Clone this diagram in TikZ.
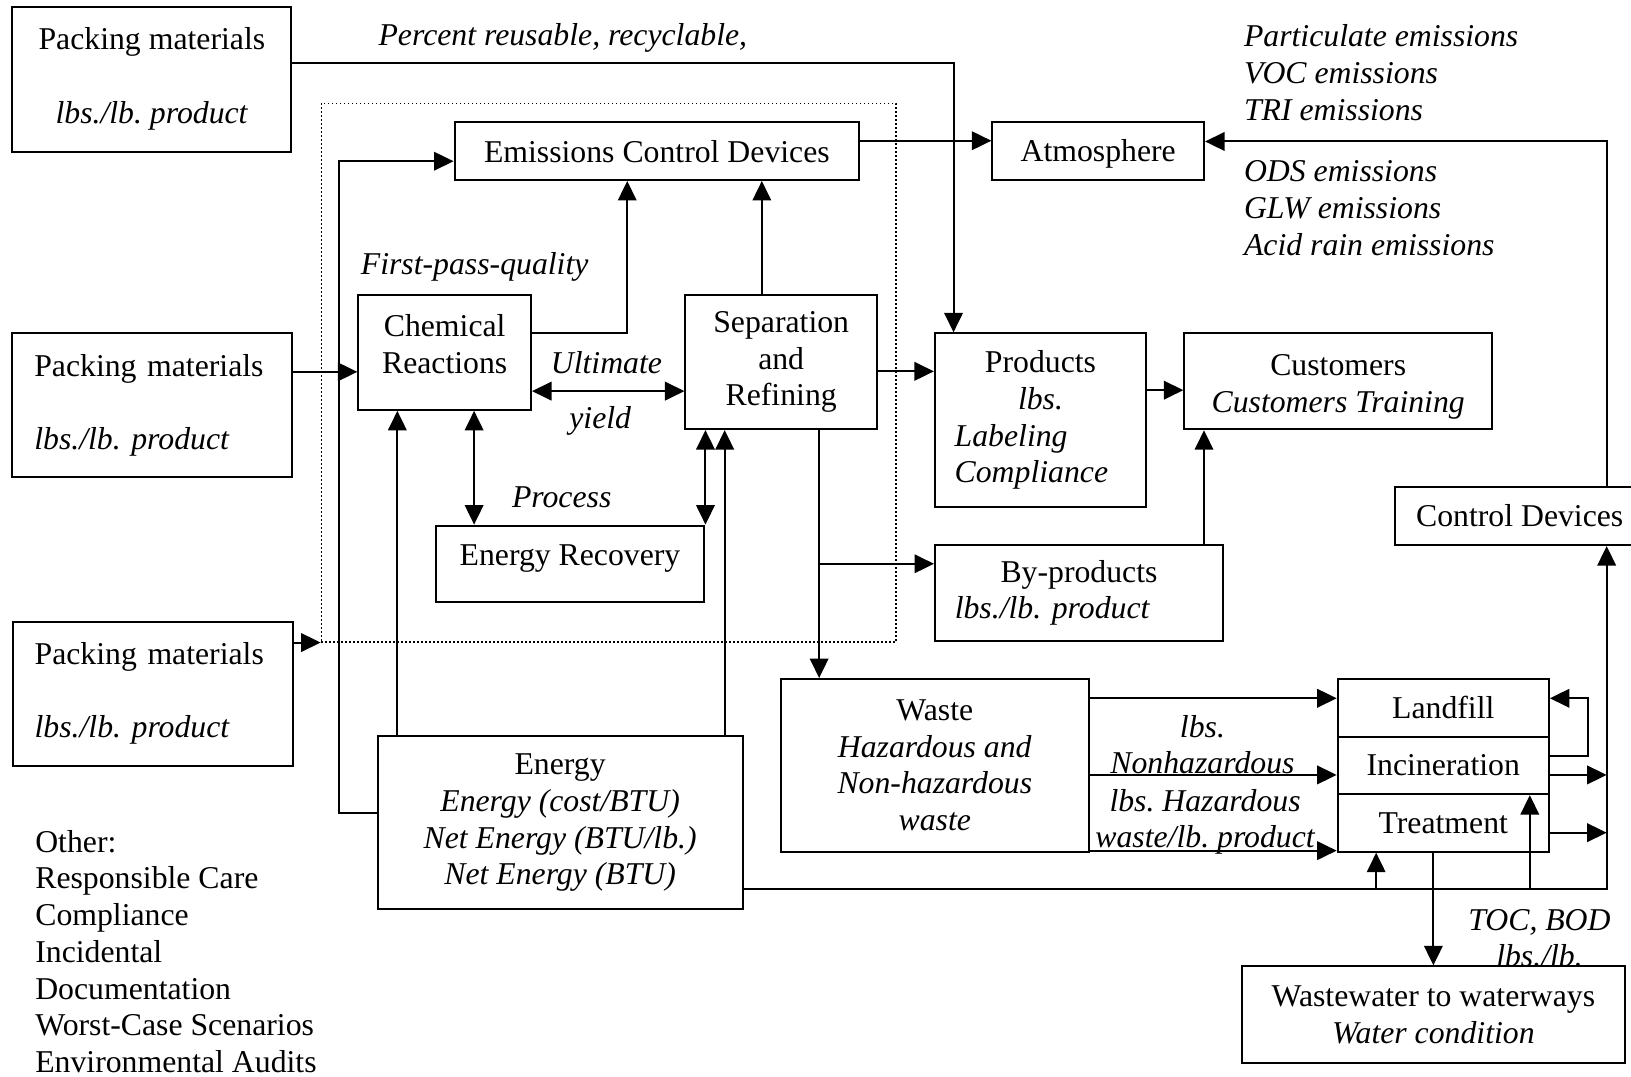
\documentclass[tikz,border=0pt]{standalone}
\usepackage{fontspec}
\setmainfont{Liberation Serif}
\usetikzlibrary{arrows.meta}
\newlength\pxu
\setlength\pxu{0.41607pt}
\frenchspacing

\begin{document}
\begin{tikzpicture}[x=0.41607pt, y=-0.41607pt, line width=0.8pt,
    font=\fontsize{12.7}{14.7}\selectfont,
    box/.style={draw, inner ysep=2pt, align=center},
    lbl/.style={inner sep=0pt, font=\fontsize{12.7}{14.7}\selectfont\itshape, align=left},
    arr/.style={-{Triangle[length=7.8pt,width=7.4pt]}},
    dbl/.style={{Triangle[length=7.8pt,width=7.4pt]}-{Triangle[length=7.8pt,width=7.4pt]}}]
    \useasboundingbox (0,0) rectangle (1568,1035);

    % plant boundary
    \node[draw, densely dotted, line width=0.6pt, minimum width=552.5\pxu, minimum height=517.7\pxu, inner sep=0pt] (plant) at (585.25,358.15) {};

    % inputs
    \node[box, minimum width=268\pxu, minimum height=139.4\pxu] (pack1) at (146,76) {Packing materials\\[15.1pt]\textit{lbs./lb. product}};
    \node[box, align=left, text width=227\pxu, inner xsep=21\pxu, minimum height=139\pxu] (pack2) at (146.5,389.5) {Packing materials\\[14.4pt]\textit{lbs./lb. product}};
    \node[box, align=left, text width=227\pxu, inner xsep=21\pxu, minimum height=138.4\pxu] (pack3) at (146.8,666.8) {Packing materials\\[14.6pt]\textit{lbs./lb. product}};
    \node[box, minimum width=351\pxu, minimum height=166\pxu] (energy) at (538.5,791) {Energy\\\textit{Energy (cost/BTU)}\\\textit{Net Energy (BTU/lb.)}\\\textit{Net Energy (BTU)}};

    % process
    \node[box, minimum width=389\pxu, minimum height=55.4\pxu] (ecd) at (631.5,145.3) {Emissions Control Devices};
    \node[box, minimum width=166\pxu, minimum height=110.4\pxu] (chem) at (427.5,338.8) {Chemical\\Reactions\rule[-16\pxu]{0pt}{0pt}};
    \node[box, minimum width=184\pxu, minimum height=129\pxu] (sep) at (751,348) {Separation\\and\\Refining};
    \node[box, minimum width=258.5\pxu, minimum height=73.6\pxu] (recov) at (548,542.1) {Energy Recovery\rule[-17\pxu]{0pt}{0pt}};

    % outputs
    \node[box, minimum width=203.5\pxu, minimum height=56\pxu, text depth=0pt] (atmo) at (1055.8,145) {Atmosphere};
    \node[box, align=left, text width=165\pxu, inner xsep=19\pxu, minimum height=166.7\pxu] (prod) at (1000.3,403.8) {\makebox[165\pxu]{Products}\\\makebox[165\pxu]{\textit{lbs.}}\\\textit{Labeling}\\\textit{Compliance}};
    \node[box, minimum width=295.8\pxu, minimum height=92.3\pxu] (cust) at (1286.5,366.5) {\rule{0pt}{31\pxu}Customers\\\textit{Customers Training}};
    \node[box, minimum width=240\pxu, minimum height=56\pxu] (ctrl) at (1461,496) {Control Devices};
    \node[box, align=left, text width=238.8\pxu, inner xsep=19\pxu, minimum height=92\pxu] (byp) at (1037.3,570) {\makebox[238.8\pxu]{By-products}\\\textit{lbs./lb. product}};
    \node[box, minimum width=296\pxu, minimum height=166\pxu] (waste) at (898.7,735.8) {Waste\\\textit{Hazardous and}\\\textit{Non-hazardous}\\\textit{waste}};
    \node[box, minimum width=203\pxu, minimum height=55.4\pxu] (landfill) at (1387.5,680.5) {Landfill};
    \node[box, minimum width=203\pxu, minimum height=55.2\pxu] (incin) at (1387.5,735.8) {Incineration};
    \node[box, minimum width=203\pxu, minimum height=55.4\pxu] (treat) at (1387.5,791.1) {Treatment};
    \node[box, minimum width=368\pxu, minimum height=93\pxu] (wwater) at (1378,975.5) {Wastewater to waterways\\\textit{Water condition}};

    % labels
    \node[lbl, anchor=west] (pctlbl) at (363,36) {Percent reusable, recyclable,};
    \node[lbl, anchor=west] (fpqlbl) at (346,257) {First-pass-quality};
    \node[lbl] (ultlbl) at (583,349) {Ultimate};
    \node[lbl] (yldlbl) at (577,405) {yield};
    \node[lbl] (proclbl) at (540,478) {Process};
    \node[lbl, anchor=west] (emis1) at (1195,70) {Particulate emissions\\VOC emissions\\TRI emissions};
    \node[lbl, anchor=west] (emis2) at (1195,200) {ODS emissions\\GLW emissions\\Acid rain emissions};
    \node[lbl, align=center] (nhlbl) at (1156,716) {lbs.\\Nonhazardous};
    \node[lbl, align=center] (hzlbl) at (1158.5,790) {lbs. Hazardous\\waste/lb. product};
    \node[lbl, align=center] (toclbl) at (1480,902) {TOC, BOD\\lbs./lb.};
    \node[inner sep=0pt, align=left, anchor=north west] (other) at (33,797) {Other:\\Responsible Care\\Compliance\\Incidental\\Documentation\\Worst-Case Scenarios\\Environmental Audits};

    \coordinate (rail) at (1544.6,854.8);
    \coordinate (drop) at ([xshift=36.5\pxu]sep.south);
    \coordinate (bypin) at ([yshift=28\pxu]byp.west);

    % flows
    \draw[arr] ([yshift=15\pxu]pack1.east) -| ([xshift=-83.6\pxu]prod.north);
    \draw[arr] ([yshift=32\pxu]pack2.east) -- ([yshift=32\pxu]pack2.east -| chem.west);
    \draw[arr] (pack3.east |- plant.south west) -- (plant.south west);
    \draw[arr] ([yshift=9\pxu]energy.west) -- ++(-36.5,0) |- ([yshift=-9.7\pxu]ecd.west);
    \draw[arr] ([yshift=19\pxu]chem.east) -| ([xshift=-28.5\pxu]ecd.south);
    \draw[arr] ([xshift=-18.6\pxu]sep.north) -- ([xshift=-18.6\pxu]sep.north |- ecd.south);
    \draw[arr] ([yshift=10\pxu]ecd.east) -- ([yshift=10\pxu]ecd.east -| atmo.west);
    \draw[dbl] ([yshift=-37.2\pxu]chem.east) -- ([yshift=-37.2\pxu]chem.east -| sep.west);
    \draw[dbl] ([xshift=28.3\pxu]chem.south) -- ([xshift=28.3\pxu]chem.south |- recov.north);
    \draw[dbl] (recov.north east) -- (recov.north east |- sep.south);
    \draw[arr] ([xshift=-156.5\pxu]energy.north) -- ([xshift=-156.5\pxu]energy.north |- chem.south);
    \draw[arr] ([xshift=158.2\pxu]energy.north) -- ([xshift=158.2\pxu]energy.north |- sep.south);
    \draw[arr] ([yshift=-9\pxu]sep.east) -- ([yshift=-9\pxu]sep.east -| prod.west);
    \draw[arr] ([yshift=28.7\pxu]prod.east) -- ([yshift=28.7\pxu]prod.east -| cust.west);
    \draw[arr] ([xshift=120.2\pxu]byp.north) -- ([xshift=120.2\pxu]byp.north |- cust.south);
    \draw[arr] (drop) -- (drop |- waste.north);
    \draw[arr] (drop |- bypin) -- (bypin);
    \draw[arr] ([yshift=64.5\pxu]waste.east) -- ([yshift=64.5\pxu]waste.east -| landfill.west);
    \draw[arr] ([yshift=-9.2\pxu]waste.east) -- ([yshift=-9.2\pxu]waste.east -| incin.west);
    \draw[arr] ([yshift=2\pxu]waste.south east) -- ([yshift=2\pxu]waste.south east -| treat.west);
    \draw[arr] ([yshift=9\pxu]incin.east) -- ++(36.8,0) |- ([yshift=9.2\pxu]landfill.east);
    \draw[arr] ([yshift=-9.2\pxu]incin.east) -- ([yshift=-9.2\pxu]incin.east -| rail);
    \draw[arr] ([yshift=-9.4\pxu]treat.east) -- ([yshift=-9.4\pxu]treat.east -| rail);
    \draw[arr] (energy.east |- rail) -- (rail) -- (rail |- ctrl.south);
    \draw[arr] ([xshift=-64.5\pxu]treat.south |- rail) -- ([xshift=-64.5\pxu]treat.south);
    \draw[arr] ([xshift=83.2\pxu]incin.south |- rail) -- ([xshift=83.2\pxu]incin.south);
    \draw[arr] (wwater.north |- treat.south) -- (wwater.north);
    \draw[arr] (rail |- ctrl.north) |- ([yshift=9\pxu]atmo.east);
\end{tikzpicture}
\end{document}
